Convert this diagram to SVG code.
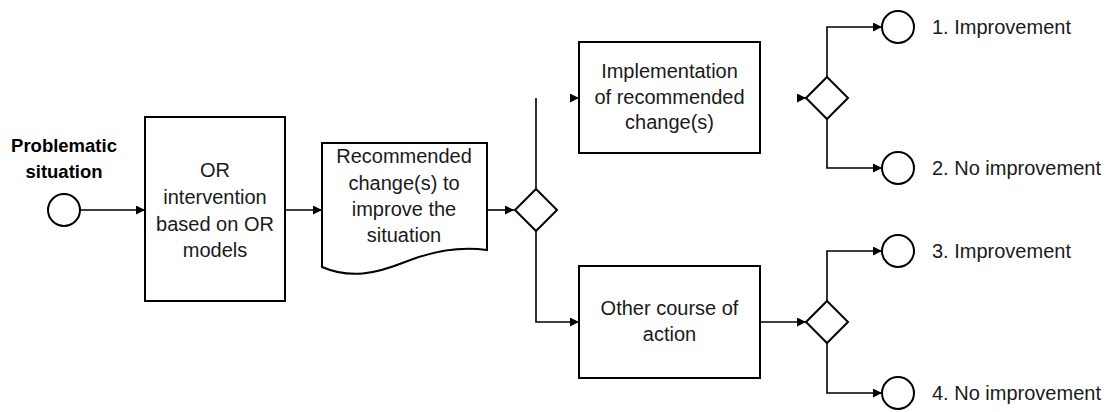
<svg xmlns="http://www.w3.org/2000/svg" width="1107" height="412" viewBox="0 0 1107 412">
<style>
.shape{fill:#fff;stroke:#000;stroke-width:2}
.conn{fill:none;stroke:#000;stroke-width:1.6}
.t{font-family:"Liberation Sans",Arial,sans-serif;font-size:20px;fill:#1a1a1a}
.c{text-anchor:middle}
.b{font-weight:bold;font-size:18.5px;fill:#000}
</style>
<defs>
<marker id="arr" viewBox="0 0 10 10" refX="10" refY="5" markerWidth="9" markerHeight="9" markerUnits="userSpaceOnUse" orient="auto">
<path d="M0,0 L10,5 L0,10 Z" fill="#000"/>
</marker>
</defs>
<rect width="1107" height="412" fill="#fff"/>
<g id="connectors">
<path class="conn" d="M80,210 H145" marker-end="url(#arr)"/>
<path class="conn" d="M285,210 H322" marker-end="url(#arr)"/>
<path class="conn" d="M487,210 H514" marker-end="url(#arr)"/>
<path class="conn" d="M536,189 V98"/>
<path class="conn" d="M571,98 H579" marker-end="url(#arr)"/>
<path class="conn" d="M536,231 V322 H579" marker-end="url(#arr)"/>
<path class="conn" d="M798,98 H806" marker-end="url(#arr)"/>
<path class="conn" d="M760,322 H806" marker-end="url(#arr)"/>
<path class="conn" d="M827,77 V27 H882" marker-end="url(#arr)"/>
<path class="conn" d="M827,119 V168 H882" marker-end="url(#arr)"/>
<path class="conn" d="M827,301 V251 H882" marker-end="url(#arr)"/>
<path class="conn" d="M827,343 V393 H882" marker-end="url(#arr)"/>
</g>
<g id="start">
<circle class="shape" cx="64" cy="210" r="16"/>
<text class="t b c" x="64" y="152">Problematic</text>
<text class="t b c" x="64" y="178">situation</text>
</g>
<g id="or-intervention">
<rect class="shape" x="145" y="117" width="140" height="184"/>
<text class="t c" x="215" y="177">OR</text>
<text class="t c" x="215" y="204">intervention</text>
<text class="t c" x="215" y="231">based on OR</text>
<text class="t c" x="215" y="257">models</text>
</g>
<g id="recommended-changes">
<path class="shape" d="M322,143 H487 V250 C460,246 430,252 405,262 C375,274 350,279 322,267 Z"/>
<text class="t c" x="404" y="163">Recommended</text>
<text class="t c" x="404" y="190">change(s) to</text>
<text class="t c" x="404" y="216">improve the</text>
<text class="t c" x="404" y="242">situation</text>
</g>
<g id="gateway-1">
<path class="shape" d="M536,189 L557,210 L536,231 L515,210 Z"/>
</g>
<g id="implementation">
<rect class="shape" x="579" y="42" width="181" height="111"/>
<text class="t c" x="669.5" y="78">Implementation</text>
<text class="t c" x="669.5" y="103.5">of recommended</text>
<text class="t c" x="669.5" y="129">change(s)</text>
</g>
<g id="other-course">
<rect class="shape" x="579" y="266" width="181" height="112"/>
<text class="t c" x="669.5" y="315">Other course of</text>
<text class="t c" x="669.5" y="341">action</text>
</g>
<g id="gateway-2">
<path class="shape" d="M827,77 L848,98 L827,119 L806,98 Z"/>
</g>
<g id="gateway-3">
<path class="shape" d="M827,301 L848,322 L827,343 L806,322 Z"/>
</g>
<g id="end-1">
<circle class="shape" cx="898" cy="27" r="16"/>
<text class="t" x="932" y="34">1. Improvement</text>
</g>
<g id="end-2">
<circle class="shape" cx="898" cy="168" r="16"/>
<text class="t" x="932" y="175">2. No improvement</text>
</g>
<g id="end-3">
<circle class="shape" cx="898" cy="251" r="16"/>
<text class="t" x="932" y="258">3. Improvement</text>
</g>
<g id="end-4">
<circle class="shape" cx="898" cy="393" r="16"/>
<text class="t" x="932" y="400">4. No improvement</text>
</g>
</svg>
